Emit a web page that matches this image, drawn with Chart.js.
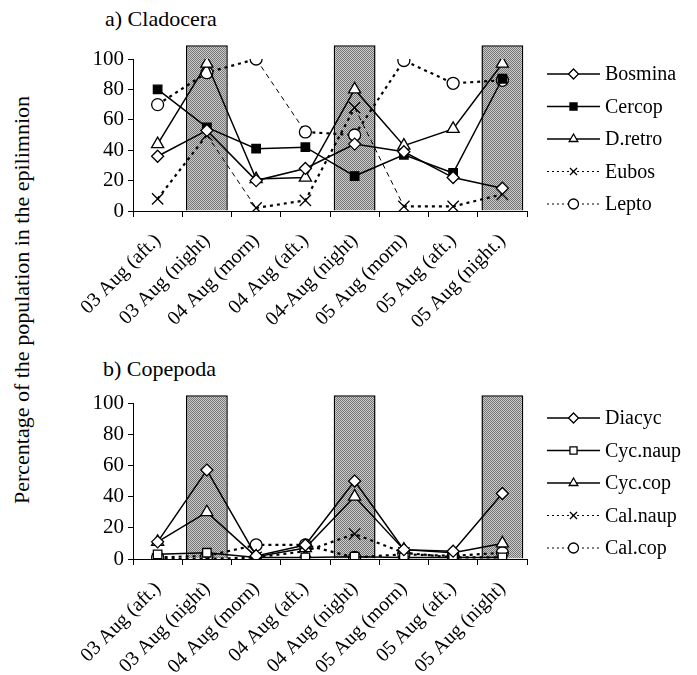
<!DOCTYPE html>
<html>
<head>
<meta charset="utf-8">
<script src="https://cdn.jsdelivr.net/npm/chart.js@4"></script>
<style>
  body { margin: 0; background: #fff; }
  #wrap { position: relative; width: 697px; height: 675px; background: #fff; overflow: hidden;
          font-family: 'Liberation Serif', 'Times New Roman', Times, 'DejaVu Serif', serif; color: #000; }
  canvas { position: absolute; left: 0; }
  .title { position: absolute; font-size: 22px; line-height: 22px; white-space: nowrap; }
  #ytitle { position: absolute; left: 22px; top: 300px; font-size: 22px; white-space: nowrap;
            transform: translate(-50%, -50%) rotate(-90deg); }
</style>
</head>
<body>
<div id="wrap">
  <div class="title" style="left:105px; top:8px;">a) Cladocera</div>
  <div class="title" style="left:103px; top:358px;">b) Copepoda</div>
  <div id="ytitle">Percentage of the population in the epilimnion</div>
  <canvas id="chartA" width="697" height="340" style="top:0"></canvas>
  <canvas id="chartB" width="697" height="335" style="top:340px"></canvas>
</div>
<script>
var labelsA = ['03 Aug (aft.)', '03 Aug (night)', '04 Aug (morn)', '04 Aug (aft.)',
  '04-Aug (night)', '05 Aug (morn)', '05 Aug (aft.)', '05 Aug (night.)'];
var labelsB = ['03 Aug (aft.)', '03 Aug (night)', '04 Aug (morn)', '04 Aug (aft.)',
  '04 Aug (night)', '05 Aug (morn)', '05 Aug (aft.)', '05 Aug (night)'];
var yTicks = [0, 20, 40, 60, 80, 100];

// shaded night periods
var nightA = [null, 109, null, null, 109, null, null, 109];
var nightB = [null, 105, null, null, 105, null, null, 105];

// a) Cladocera
var bosmina = [36, 53, 20, 28, 44, 39, 22, 15];
var cercop = [80, 55, 41, 42, 23, 37, 25, 87];
var dretro = [44, 97, 21, 22, 80, 43, 54, 97];
var eubos = [8, 50, 2, 7, 68, 3, 3, 11];
var lepto = [70, 91, 100, 52, 50, 99, 84, 86];

// b) Copepoda
var diacyc = [11, 57, 2, 9, 50, 6, 5, 42];
var cycNaup = [3, 4, 1, 1, 1.5, 1, 1, 1];
var cycCop = [11, 30, 1.5, 7, 40, 6, 4, 10];
var calNaup = [0, 0, 1, 5, 16, 4, 1, 1];
var calCop = [1, 2, 9, 9, 1, 3, 2, 4];

var FONT = "'Liberation Serif', 'Times New Roman', Times, 'DejaVu Serif', serif";

function makePattern () {
  var c = document.createElement('canvas');
  c.width = 2; c.height = 2;
  var g = c.getContext('2d');
  g.fillStyle = '#cacaca';
  g.fillRect(0, 0, 2, 2);
  g.fillStyle = '#777';
  g.fillRect(0, 0, 1, 1);
  g.fillRect(1, 1, 1, 1);
  return g.createPattern(c, 'repeat');
}
var shade = makePattern();

var dotted = [3, 4], dashed = [5, 4];
function dotSegment (ctx) {
  return ctx.p1.parsed.y < ctx.p0.parsed.y - 20 ? dashed : dotted;
}
function dotWidth (ctx) {
  return ctx.p1.parsed.y < ctx.p0.parsed.y - 20 ? 1 : 2.2;
}

function series (label, data, style, fill, kind) {
  var ds = {
    type: 'line',
    label: label,
    data: data,
    borderColor: '#000',
    borderWidth: 1.5,
    pointStyle: style,
    pointRadius: style === 'crossRot' ? 8 : (style === 'triangle' ? 7 : 6),
    pointBorderWidth: 1.3,
    pointBorderColor: '#000',
    pointBackgroundColor: fill,
    tension: 0,
    order: 0,
    legendKind: kind
  };
  if (kind === 'dot') {
    ds.segment = { borderDash: dotSegment, borderWidth: dotWidth };
  }
  return ds;
}

var legendPlugin = {
  id: 'sideLegend',
  afterDraw: function (chart) {
    var ctx = chart.ctx, area = chart.chartArea;
    var lines = chart.data.datasets.filter(function (d) { return d.type === 'line'; });
    ctx.save();
    lines.forEach(function (d, i) {
      var y = area.top + 15 + i * 32.5;
      var x0 = area.right + 20, x1 = x0 + 53;
      ctx.strokeStyle = '#000';
      if (d.legendKind === 'solid' || d.legendKind === 'dot') {
        ctx.lineWidth = d.legendKind === 'solid' ? 1.5 : 1.2;
        ctx.setLineDash(d.legendKind === 'solid' ? [] : [2, 3]);
        ctx.beginPath();
        ctx.moveTo(x0, y);
        ctx.lineTo(x1, y);
        ctx.stroke();
      }
      ctx.setLineDash([]);
      ctx.lineWidth = 1.3;
      ctx.fillStyle = d.pointBackgroundColor;
      Chart.helpers.drawPoint(ctx, {
        pointStyle: d.pointStyle, radius: 5, rotation: 0, borderWidth: 1.3
      }, (x0 + x1) / 2, y);
      ctx.fillStyle = '#000';
      ctx.font = '20px ' + FONT;
      ctx.textBaseline = 'middle';
      ctx.textAlign = 'left';
      ctx.fillText(d.label, x1 + 5, y + 1);
    });
    ctx.restore();
  }
};

function makeChart (id, labels, night, lineSets, topPad, bottomY) {
  var canvas = document.getElementById(id);
  var H = canvas.height;
  return new Chart(canvas, {
    type: 'line',
    data: {
      labels: labels,
      datasets: lineSets.concat([{
        type: 'bar',
        label: 'night',
        data: night,
        backgroundColor: shade,
        borderColor: '#000',
        borderWidth: 1.5,
        barPercentage: 0.85,
        categoryPercentage: 1,
        clip: false,
        order: 10
      }])
    },
    options: {
      responsive: false,
      animation: false,
      layout: { padding: { top: topPad, right: 170, left: 0, bottom: 0 } },
      plugins: { legend: { display: false }, tooltip: { enabled: false } },
      scales: {
        x: {
          offset: true,
          grid: { offset: true, drawOnChartArea: false, tickLength: 6, color: '#000' },
          border: { color: '#000', width: 1 },
          ticks: {
            minRotation: 45, maxRotation: 45, color: '#000', padding: 12,
            font: { family: FONT, size: 20 }
          },
          afterFit: function (scale) { scale.height = H - bottomY; }
        },
        y: {
          min: 0, max: 100,
          afterBuildTicks: function (scale) {
            scale.ticks = yTicks.map(function (v) { return { value: v }; });
          },
          grid: { drawOnChartArea: false, tickLength: 5, color: '#000' },
          border: { color: '#000', width: 1 },
          ticks: {
            color: '#000', padding: 4,
            font: { family: FONT, size: 21 }
          },
          afterFit: function (scale) { scale.width = 133; }
        }
      }
    },
    plugins: [legendPlugin]
  });
}

makeChart('chartA', labelsA, nightA, [
  series('Bosmina', bosmina, 'rectRot', '#fff', 'solid'),
  series('Cercop', cercop, 'rect', '#000', 'solid'),
  series('D.retro', dretro, 'triangle', '#fff', 'solid'),
  series('Eubos', eubos, 'crossRot', '#fff', 'dot'),
  series('Lepto', lepto, 'circle', '#fff', 'dot')
], 59, 211);

makeChart('chartB', labelsB, nightB, [
  series('Diacyc', diacyc, 'rectRot', '#fff', 'solid'),
  series('Cyc.naup', cycNaup, 'rect', '#fff', 'solid'),
  series('Cyc.cop', cycCop, 'triangle', '#fff', 'solid'),
  series('Cal.naup', calNaup, 'crossRot', '#fff', 'dot'),
  series('Cal.cop', calCop, 'circle', '#fff', 'dot')
], 63, 219);
</script>
</body>
</html>
